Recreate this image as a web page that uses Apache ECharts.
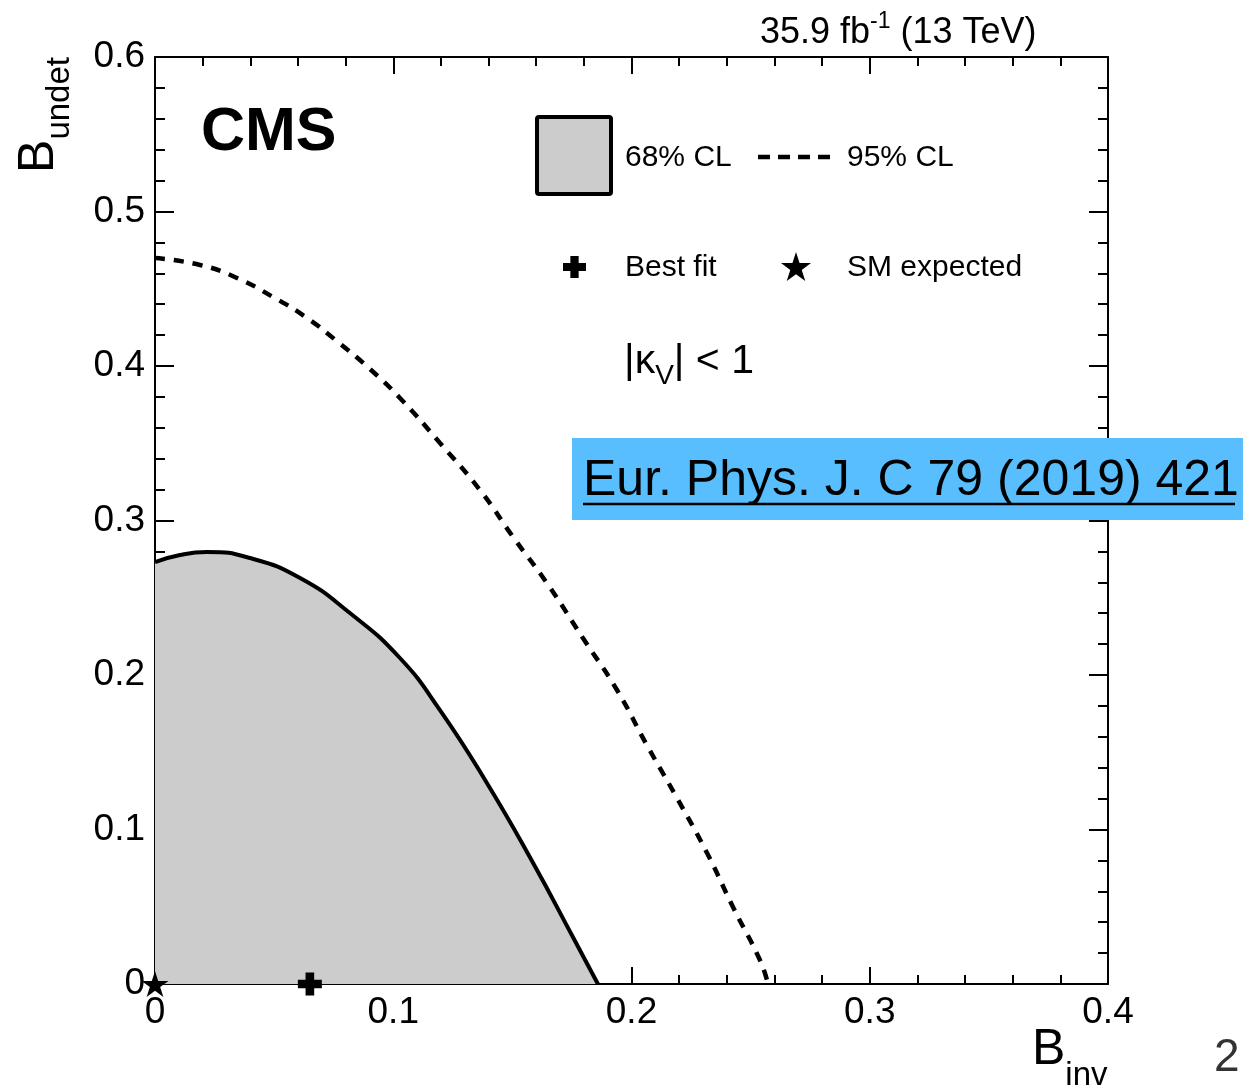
<!DOCTYPE html>
<html>
<head>
<meta charset="utf-8">
<script src="https://cdn.jsdelivr.net/npm/echarts@6/dist/echarts.min.js"></script>
<style>
  html, body { margin: 0; padding: 0; background: #fff; }
  #chart { width: 1243px; height: 1087px; }
</style>
</head>
<body>
<div id="chart"></div>
<script>
const FONT = '"Liberation Sans", Arial, Helvetica, sans-serif';

// 68% CL contour: upper edge of the shaded region (B_inv, B_undet)
const cl68Binv   = [0, 0.0105, 0.0218, 0.0399, 0.0609, 0.0818, 0.1028, 0.1196, 0.1393, 0.1587, 0.1754, 0.1859];
const cl68Bundet = [0.2731, 0.2777, 0.2796, 0.2757, 0.2628, 0.2401, 0.2110, 0.1773, 0.1301, 0.0783, 0.0304, 0];

// 95% CL contour (dashed)
const cl95Binv   = [0, 0.0189, 0.0344, 0.0495, 0.0638, 0.0768, 0.0902, 0.1028, 0.1196, 0.1364, 0.1503, 0.1645, 0.1796, 0.1939, 0.2065, 0.2191, 0.2317, 0.2426, 0.2539, 0.2573];
const cl95Bundet = [0.4699, 0.4654, 0.4570, 0.4447, 0.4311, 0.4155, 0.3981, 0.3793, 0.3502, 0.3197, 0.2893, 0.2595, 0.2239, 0.1903, 0.1545, 0.1204, 0.0848, 0.0498, 0.0155, 0];

// Points
const bestFit    = [0.065, 0];
const smExpected = [0, 0];

// Axis tick labels
const xTickLabels = ['0', '0.1', '0.2', '0.3', '0.4'];
const yTickLabels = ['0', '0.1', '0.2', '0.3', '0.4', '0.5', '0.6'];

const zip = (xs, ys) => xs.map((x, i) => [x, ys[i]]);

// Marker outlines in a 0..100 box
const STAR_PTS = [[50,0],[61.23,34.55],[97.55,34.55],[68.17,55.9],[79.39,90.45],[50,69.1],[20.61,90.45],[31.83,55.9],[2.45,34.55],[38.77,34.55]];
const CROSS_PTS = [[32,0],[68,0],[68,32],[100,32],[100,68],[68,68],[68,100],[32,100],[32,68],[0,68],[0,32],[32,32]];
const toPath = pts => 'path://M' + pts.map(p => p[0] + ',' + p[1]).join(' L') + ' Z';
// fit an outline into a pixel box (for legend icons)
function fitPts(pts, x, y, w, h) {
  const xs = pts.map(p => p[0]), ys = pts.map(p => p[1]);
  const x0 = Math.min(...xs), x1 = Math.max(...xs), y0 = Math.min(...ys), y1 = Math.max(...ys);
  return pts.map(p => [x + (p[0] - x0) / (x1 - x0) * w, y + (p[1] - y0) / (y1 - y0) * h]);
}

const axisLineStyle = { color: '#000', width: 2 };

function baseX(pos, showLabels) {
  return {
    type: 'value', min: 0, max: 0.4, interval: 0.1, position: pos,
    axisLine: { show: true, onZero: false, lineStyle: axisLineStyle },
    axisTick: { show: true, inside: true, length: 17, lineStyle: axisLineStyle },
    minorTick: { show: true, splitNumber: 5, length: 9, lineStyle: axisLineStyle },
    splitLine: { show: false },
    minorSplitLine: { show: false },
    axisLabel: {
      show: showLabels, margin: 10, fontSize: 37, fontFamily: FONT, color: '#000',
      showMinLabel: true, showMaxLabel: true,
      formatter: v => xTickLabels[Math.round(v / 0.1)]
    }
  };
}
function baseY(pos, showLabels) {
  return {
    type: 'value', min: 0, max: 0.6, interval: 0.1, position: pos,
    axisLine: { show: true, onZero: false, lineStyle: axisLineStyle },
    axisTick: { show: true, inside: true, length: 19, lineStyle: axisLineStyle },
    minorTick: { show: true, splitNumber: 5, length: 10, lineStyle: axisLineStyle },
    splitLine: { show: false },
    minorSplitLine: { show: false },
    axisLabel: {
      show: showLabels, margin: 10, fontSize: 37, fontFamily: FONT, color: '#000',
      showMinLabel: true, showMaxLabel: true,
      formatter: v => yTickLabels[Math.round(v / 0.1)]
    }
  };
}

const chart = echarts.init(document.getElementById('chart'), null, { renderer: 'canvas' });

chart.setOption({
  backgroundColor: '#fff',
  animation: false,
  grid: { left: 155, top: 57, width: 953, height: 927, containLabel: false },
  xAxis: [baseX('bottom', true), baseX('top', false)],
  yAxis: [baseY('left', true), baseY('right', false)],
  series: [
    {
      name: '68% CL', type: 'line', xAxisIndex: 0, yAxisIndex: 0,
      data: zip(cl68Binv, cl68Bundet),
      smooth: 0.5, symbol: 'none', clip: true,
      lineStyle: { color: '#000', width: 4 },
      areaStyle: { color: '#cccccc', opacity: 1, origin: 'start' },
      z: 1
    },
    {
      name: '95% CL', type: 'line', xAxisIndex: 0, yAxisIndex: 0,
      data: zip(cl95Binv, cl95Bundet),
      smooth: 0.5, symbol: 'none', clip: true,
      lineStyle: { color: '#000', width: 4.5, type: [10, 9], cap: 'butt' },
      z: 2
    },
    {
      name: 'Best fit', type: 'scatter', data: [bestFit], clip: false,
      symbol: toPath(CROSS_PTS), symbolSize: [24, 23],
      itemStyle: { color: '#000', opacity: 1 }, z: 10
    },
    {
      name: 'SM expected', type: 'scatter', data: [smExpected], clip: false,
      symbol: toPath(STAR_PTS), symbolSize: [27, 26],
      itemStyle: { color: '#000', opacity: 1 }, z: 10
    }
  ],
  graphic: [
    // Experiment label and luminosity
    { type: 'text', x: 201, y: 133, z: 20,
      style: { text: 'CMS', fontFamily: FONT, fontWeight: 'bold', fontSize: 61, fill: '#000',
               align: 'left', verticalAlign: 'middle' } },
    { type: 'text', x: 760, y: 33, z: 20,
      style: { text: '{m|35.9 fb}{p|-1}{m| (13 TeV)}', align: 'left', verticalAlign: 'middle',
               rich: {
                 m: { fontFamily: FONT, fontSize: 36, lineHeight: 46, fill: '#000', color: '#000' },
                 p: { fontFamily: FONT, fontSize: 23, lineHeight: 24, verticalAlign: 'top', fill: '#000', color: '#000' }
               } } },
    // Axis titles
    { type: 'text', x: 39, y: 115, rotation: Math.PI / 2, z: 20,
      style: { text: '{b|B}{s|undet}', align: 'center', verticalAlign: 'middle',
               rich: {
                 b: { fontFamily: FONT, fontSize: 50, lineHeight: 74, fill: '#000', color: '#000' },
                 s: { fontFamily: FONT, fontSize: 33, lineHeight: 30, verticalAlign: 'bottom', fill: '#000', color: '#000' }
               } } },
    { type: 'text', x: 1032, y: 1050, z: 20,
      style: { text: '{b|B}{s|inv}', align: 'left', verticalAlign: 'middle',
               rich: {
                 b: { fontFamily: FONT, fontSize: 50, lineHeight: 84, fill: '#000', color: '#000' },
                 s: { fontFamily: FONT, fontSize: 33, lineHeight: 30, verticalAlign: 'bottom', fill: '#000', color: '#000' }
               } } },
    // Legend
    { type: 'rect', z: 20, shape: { x: 537, y: 117, width: 74, height: 77, r: 2 },
      style: { fill: '#cccccc', stroke: '#000', lineWidth: 4 } },
    { type: 'text', x: 625, y: 158, z: 20,
      style: { text: '68% CL', fontFamily: FONT, fontSize: 30, fill: '#000', align: 'left', verticalAlign: 'middle' } },
    { type: 'line', z: 20, shape: { x1: 758, y1: 157, x2: 832, y2: 157 },
      style: { stroke: '#000', lineWidth: 4.5, lineDash: [12, 8] } },
    { type: 'text', x: 847, y: 158, z: 20,
      style: { text: '95% CL', fontFamily: FONT, fontSize: 30, fill: '#000', align: 'left', verticalAlign: 'middle' } },
    { type: 'polygon', z: 20, shape: { points: fitPts(CROSS_PTS, 563, 256, 23, 22) },
      style: { fill: '#000' } },
    { type: 'text', x: 625, y: 268, z: 20,
      style: { text: 'Best fit', fontFamily: FONT, fontSize: 30, fill: '#000', align: 'left', verticalAlign: 'middle' } },
    { type: 'polygon', z: 20, shape: { points: fitPts(STAR_PTS, 781, 252, 30, 29) },
      style: { fill: '#000' } },
    { type: 'text', x: 847, y: 268, z: 20,
      style: { text: 'SM expected', fontFamily: FONT, fontSize: 30, fill: '#000', align: 'left', verticalAlign: 'middle' } },
    { type: 'text', x: 624, y: 362, z: 20,
      style: { text: '{m||\u03ba}{s|V}{m|| < 1}', align: 'left', verticalAlign: 'middle',
               rich: {
                 m: { fontFamily: FONT, fontSize: 41, lineHeight: 56, fill: '#000', color: '#000' },
                 s: { fontFamily: FONT, fontSize: 28, lineHeight: 28, verticalAlign: 'bottom', fill: '#000', color: '#000' }
               } } },
    // Reference banner
    { type: 'rect', z: 30, shape: { x: 572, y: 438, width: 671, height: 82 },
      style: { fill: '#58befd' } },
    { type: 'text', x: 583, y: 481, z: 31,
      style: { text: 'Eur. Phys. J. C 79 (2019) 421', fontFamily: FONT, fontSize: 50, fill: '#000',
               align: 'left', verticalAlign: 'middle' } },
    { type: 'line', z: 31, shape: { x1: 583, y1: 504, x2: 1235, y2: 504 },
      style: { stroke: '#000', lineWidth: 2.5 } },
    // Page number
    { type: 'text', x: 1214, y: 1058, z: 20,
      style: { text: '2', fontFamily: FONT, fontSize: 46, fill: '#333', align: 'left', verticalAlign: 'middle' } }
  ]
});
</script>
</body>
</html>
